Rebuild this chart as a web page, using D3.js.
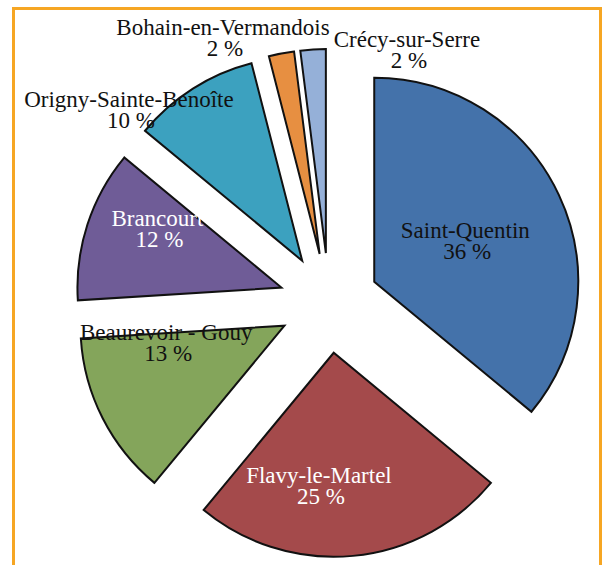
<!DOCTYPE html>
<html>
<head>
<meta charset="utf-8">
<script src="https://cdn.jsdelivr.net/npm/d3@7/dist/d3.min.js"></script>
<style>
  html, body { margin: 0; padding: 0; background: #ffffff; }
  svg { display: block; }
</style>
</head>
<body>
<svg id="chart" width="606" height="565"></svg>
<script>
// Share of each commune (percent)
const categories = [
  "Saint-Quentin",
  "Flavy-le-Martel",
  "Beaurevoir - Gouy",
  "Brancourt",
  "Origny-Sainte-Benoîte",
  "Bohain-en-Vermandois",
  "Crécy-sur-Serre"
];
const shares = [36, 25, 13, 12, 10, 2, 2];

// Slice fills and label ink
const sliceColors = ["#4472aa", "#a44a4b", "#84a55b", "#6f5c97", "#3ca1bf", "#e78f41", "#95b0d8"];
const labelInk = ["#111", "#fff", "#111", "#fff", "#111", "#111", "#111"];

// Label anchors in polar form around the pie centre: [angle in degrees clockwise from 12 o'clock, distance in px]
const labelPolar = [
  [64.5, 151], [183.2, 180], [257.2, 167], [294.1, 188],
  [314.4, 280], [338.4, 288], [16.9, 268]
];

const svg = d3.select("#chart");
const cx = 329, cy = 303;
const radius = 204;
const explode = 50;
const labelFont = "'Liberation Serif', 'Times New Roman', Times, serif";

// Orange frame around the chart area
svg.append("rect")
  .attr("x", 13.5).attr("y", 8.5)
  .attr("width", 587).attr("height", 620)
  .attr("fill", "none")
  .attr("stroke", "#f6a623")
  .attr("stroke-width", 3);

const data = categories.map((name, i) => ({ name, value: shares[i], i }));

const pie = d3.pie().sort(null).value(d => d.value).startAngle(0).endAngle(2 * Math.PI);
const arcs = pie(data);
const arc = d3.arc().innerRadius(0).outerRadius(radius);

const g = svg.append("g").attr("transform", `translate(${cx},${cy})`);

// Exploded slices, each pushed out along its bisector
g.selectAll("path.slice")
  .data(arcs)
  .join("path")
  .attr("class", "slice")
  .attr("transform", d => {
    const mid = (d.startAngle + d.endAngle) / 2;
    return `translate(${explode * Math.sin(mid)},${-explode * Math.cos(mid)})`;
  })
  .attr("d", arc)
  .attr("fill", d => sliceColors[d.data.i])
  .attr("stroke", "#111")
  .attr("stroke-width", 2)
  .attr("stroke-linejoin", "miter");

// Two-line data labels: name and percentage
const labels = g.selectAll("g.lbl")
  .data(arcs)
  .join("g")
  .attr("class", "lbl")
  .attr("transform", d => {
    const [deg, dist] = labelPolar[d.data.i];
    const a = deg * Math.PI / 180;
    return `translate(${dist * Math.sin(a)},${-dist * Math.cos(a)})`;
  });

labels.append("text")
  .attr("text-anchor", "middle")
  .style("font-family", labelFont)
  .attr("font-size", 23)
  .attr("fill", d => labelInk[d.data.i])
  .attr("x", 0).attr("y", 0)
  .text(d => d.data.name);

labels.append("text")
  .attr("text-anchor", "middle")
  .style("font-family", labelFont)
  .attr("font-size", 23)
  .attr("fill", d => labelInk[d.data.i])
  .attr("x", 2).attr("y", 21)
  .text(d => `${d.data.value} %`);
</script>
</body>
</html>
